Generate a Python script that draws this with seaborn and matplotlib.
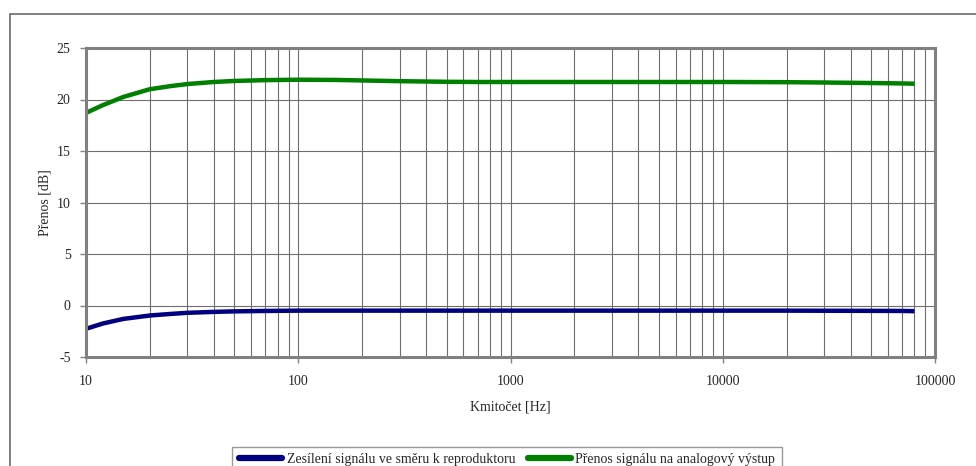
import numpy as np
import pandas as pd
import matplotlib
matplotlib.use("Agg")
import matplotlib.pyplot as plt
import seaborn as sns
from matplotlib.patches import Rectangle
from matplotlib.ticker import FixedLocator, FixedFormatter, LogLocator, NullFormatter

# Frequency response measurements
freq_hz = [10, 12, 15, 20, 25, 30, 40, 50, 70, 100, 150, 200, 300, 500, 700, 1000,
           2000, 5000, 10000, 20000, 30000, 50000, 70000, 80000]
gain_speaker_db = [-2.26, -1.75, -1.30, -0.97, -0.82, -0.71, -0.62, -0.57, -0.53, -0.50,
                   -0.50, -0.50, -0.50, -0.50, -0.50, -0.50, -0.50, -0.50, -0.50, -0.50,
                   -0.51, -0.52, -0.53, -0.55]
gain_analog_db = [18.70, 19.45, 20.25, 21.00, 21.30, 21.50, 21.70, 21.80, 21.88, 21.92,
                  21.90, 21.85, 21.78, 21.72, 21.70, 21.70, 21.70, 21.70, 21.70, 21.68,
                  21.65, 21.60, 21.56, 21.53]
series_names = ["Zesílení signálu ve směru k reproduktoru",
                "Přenos signálu na analogový výstup"]
y_ticks = [-5, 0, 5, 10, 15, 20, 25]
x_ticks = [10, 100, 1000, 10000, 100000]

df = pd.DataFrame({
    "f": freq_hz * 2,
    "g": gain_speaker_db + gain_analog_db,
    "s": [series_names[0]] * len(freq_hz) + [series_names[1]] * len(freq_hz),
})

sns.set_style("white")
plt.rcParams["font.family"] = ["Liberation Serif", "DejaVu Serif"]

fig = plt.figure(figsize=(9.76, 4.66), dpi=100)
ax = fig.add_axes([86 / 976, 1 - 357 / 466, (935 - 86) / 976, (357 - 48) / 466])

sns.lineplot(data=df, x="f", y="g", hue="s", palette=["#000080", "#008000"],
             linewidth=3.2, ax=ax, legend=False, solid_capstyle="butt")

ax.set_xscale("log")
ax.set_xlim(10, 100000)
ax.set_ylim(-5, 25)
ax.xaxis.set_major_locator(FixedLocator(x_ticks))
ax.xaxis.set_major_formatter(FixedFormatter([str(v) for v in x_ticks]))
ax.xaxis.set_minor_locator(LogLocator(base=10, subs=np.arange(2, 10)))
ax.xaxis.set_minor_formatter(NullFormatter())
ax.yaxis.set_major_locator(FixedLocator(y_ticks))
ax.set_yticklabels([str(v) for v in y_ticks])

ax.grid(True, which="major", axis="both", color="#6e6e6e", linewidth=0.8)
ax.grid(True, which="minor", axis="x", color="#6e6e6e", linewidth=0.8)
ax.set_axisbelow(True)

for sp in ax.spines.values():
    sp.set_color("#808080")
    sp.set_linewidth(2.2)
    sp.set_visible(True)

ax.tick_params(axis="both", which="major", length=4, width=1, color="#808080",
               labelsize=10, direction="out", pad=7, bottom=True, left=True)
ax.tick_params(axis="x", which="minor", length=0)
ax.tick_params(axis="x", which="major", pad=9)

ax.set_xlabel("Kmitočet [Hz]", fontsize=10, labelpad=9)
ax.set_ylabel("Přenos [dB]", fontsize=10, labelpad=4)

handles = [plt.Line2D([], [], color="#000080", linewidth=4.5),
           plt.Line2D([], [], color="#008000", linewidth=4.5)]
leg = fig.legend(handles, series_names, loc="upper center",
                 bbox_to_anchor=(507 / 976, 1 - 447 / 466), ncol=2, frameon=True,
                 fancybox=False, fontsize=10, handlelength=3.1, handletextpad=0.35,
                 columnspacing=0.9, borderpad=0.45, borderaxespad=0)
leg.get_frame().set_edgecolor("#808080")
leg.get_frame().set_linewidth(1.0)

# chart area outline
fig.patches.append(Rectangle((10 / 976, -0.1), 1.2, 1.1 - 14 / 466,
                             transform=fig.transFigure, fill=False,
                             edgecolor="#6a6a6a", linewidth=1.2, zorder=-1))

fig.savefig("out.png", dpi=100)
